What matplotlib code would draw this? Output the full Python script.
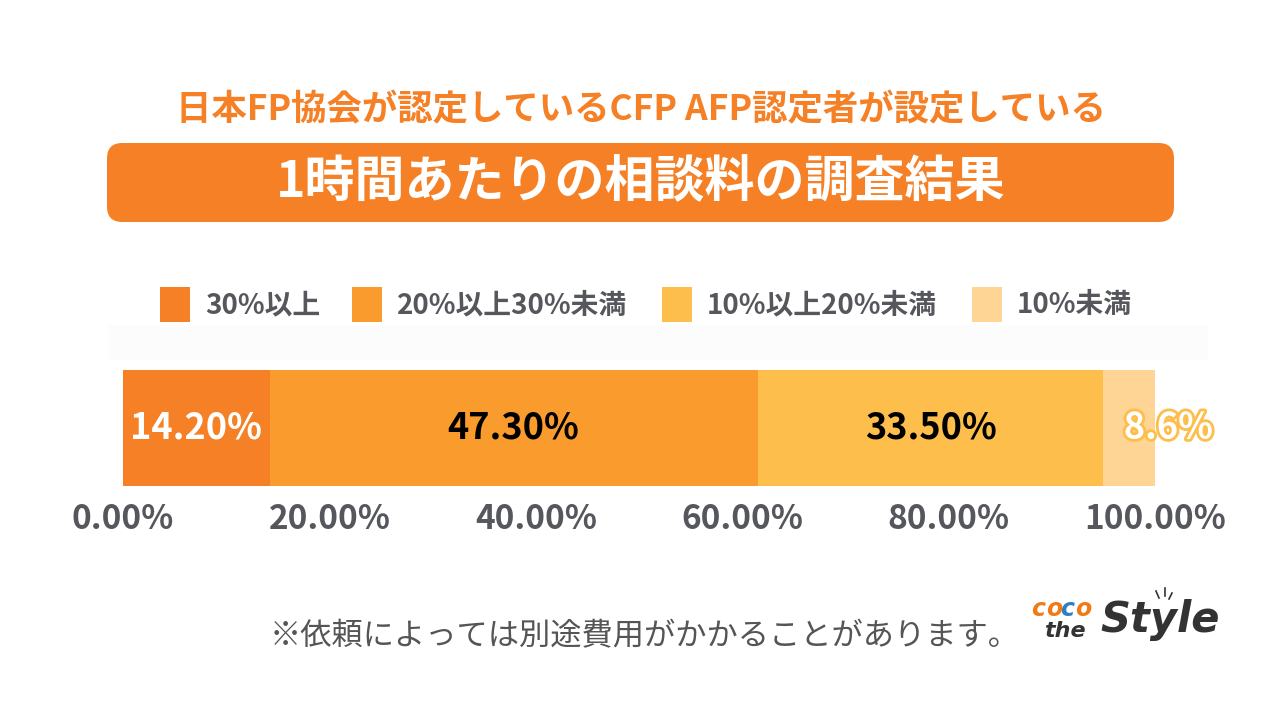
import matplotlib
matplotlib.use("Agg")
import matplotlib.pyplot as plt
import matplotlib.patheffects as pe
from matplotlib.patches import FancyBboxPatch, Rectangle

plt.rcParams["font.family"] = ["Noto Sans CJK JP", "DejaVu Sans"]

W, H = 1282, 716

categories = ["30%以上", "20%以上30%未満", "10%以上20%未満", "10%未満"]
values = [14.2, 47.3, 33.5, 8.6]
value_labels = ["14.20%", "47.30%", "33.50%", "8.6%"]
colors = ["#F58025", "#FA9B2D", "#FDBE4B", "#FED595"]
label_colors = ["white", "black", "black", "white"]
ticks = [0, 20, 40, 60, 80, 100]
tick_labels = ["0.00%", "20.00%", "40.00%", "60.00%", "80.00%", "100.00%"]

title1 = "日本FP協会が認定しているCFP AFP認定者が設定している"
title2 = "1時間あたりの相談料の調査結果"
note = "※依頼によっては別途費用がかかることがあります。"

fig = plt.figure(figsize=(W / 100, H / 100), dpi=100)


def fx(px):
    return px / W


def fy(py):
    return 1 - py / H


# header
fig.text(fx(641), fy(110), title1, color="#F58025", fontsize=25.5, fontweight="bold",
         ha="center", va="center")
box = FancyBboxPatch((fx(107), fy(222)), fx(1174 - 107), (222 - 143) / H,
                     boxstyle="round,pad=0,rounding_size=0.012", transform=fig.transFigure,
                     fc="#F58025", ec="none", mutation_aspect=W / H)
fig.patches.append(box)
fig.text(fx(641), fy(183), title2, color="white", fontsize=36, fontweight="bold",
         ha="center", va="center")

# legend
leg_x = [160, 352, 662, 972]
for x, c, lab in zip(leg_x, colors, categories):
    fig.patches.append(Rectangle((fx(x), fy(322)), fx(30), 35 / H, transform=fig.transFigure,
                                 fc=c, ec="none"))
    fig.text(fx(x + 45), fy(305), lab, color="#55575C", fontsize=20, fontweight="bold",
             ha="left", va="center")
fig.patches.append(Rectangle((fx(108), fy(360)), fx(1100), 35 / H, transform=fig.transFigure,
                             fc="#FCFCFC", ec="none"))

# bar
ax = fig.add_axes([fx(123), fy(486), fx(1155 - 123), 116 / H])
left = 0
for v, c, lab, lc in zip(values, colors, value_labels, label_colors):
    ax.barh(0, v, left=left, height=1, color=c, edgecolor="none")
    xc = left + v / 2
    if lab == "8.6%":
        t = ax.text(xc + 2, 0, lab, color="white", fontsize=26, fontweight="bold",
                    ha="center", va="center", clip_on=False)
        t.set_path_effects([pe.withStroke(linewidth=4, foreground="#FDBE4B")])
    else:
        ax.text(xc, 0, lab, color=lc, fontsize=26, fontweight="bold", ha="center", va="center")
    left += v
ax.set_xlim(0, 100)
ax.set_ylim(-0.5, 0.5)
ax.set_yticks([])
ax.set_xticks(ticks)
ax.set_xticklabels(tick_labels, color="#55575C", fontsize=24, fontweight="bold")
ax.tick_params(axis="x", length=0, pad=12)
for s in ax.spines.values():
    s.set_visible(False)

# footnote
fig.text(fx(645), fy(636), note, color="#555555", fontsize=22.5, ha="center", va="center")

# logo
for ch, x, c in zip("coco", [1031, 1046, 1060, 1075], ["#F07A14", "#F07A14", "#2F7DC4", "#F07A14"]):
    fig.text(fx(x), fy(609), ch, color=c, fontsize=17, fontweight="bold", style="italic",
             ha="left", va="center", family="DejaVu Sans")
fig.text(fx(1044), fy(631), "the", color="#333333", fontsize=16, fontweight="bold", style="italic",
         ha="left", va="center", family="DejaVu Sans")
fig.text(fx(1100), fy(620), "Style", color="#333333", fontsize=30, fontweight="bold", style="italic",
         ha="left", va="center", family="DejaVu Sans")
for x0, y0, x1, y1 in [(1156, 591, 1159, 598), (1165, 588, 1165, 596), (1172, 593, 1169, 599)]:
    fig.add_artist(plt.Line2D([fx(x0), fx(x1)], [fy(y0), fy(y1)], color="#333333", lw=1.2))

fig.savefig("out.png", dpi=100)
